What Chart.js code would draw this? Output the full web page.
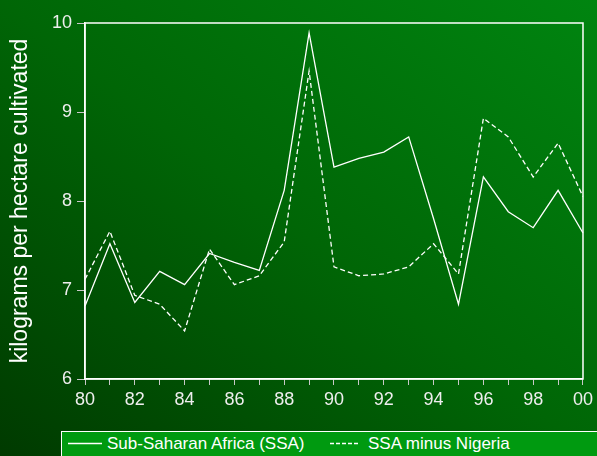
<!DOCTYPE html>
<html>
<head>
    <meta charset="UTF-8">
    <title>Fertilizer use, Sub-Saharan Africa</title>
    <script src="https://cdn.jsdelivr.net/npm/chart.js"></script>
    <style>
        html, body {
            margin: 0;
            padding: 0;
        }
        body {
            width: 597px;
            height: 456px;
            overflow: hidden;
            position: relative;
            background: linear-gradient(to top right, #003a00 0%, #006606 50%, #008510 100%);
            font-family: "Liberation Sans", Arial, sans-serif;
        }
        #myChart {
            position: absolute;
            left: 0;
            top: 0;
        }
        #legend {
            position: absolute;
            left: 61px;
            top: 431px;
            width: 560px;
            height: 40px;
            background: #009a10;
            border: 1px solid #ffffff;
            color: #ffffff;
            font-size: 17px;
        }
        #legend .txt {
            position: absolute;
            top: 3px;
            line-height: 17px;
            white-space: nowrap;
        }
        #legend svg {
            position: absolute;
            top: 6px;
        }
    </style>
</head>
<body>
    <canvas id="myChart" width="597" height="456"></canvas>
    <div id="legend">
        <svg style="left:6px" width="34" height="12"><line x1="0" y1="5.5" x2="34" y2="5.5" stroke="#fff" stroke-width="1.3"/></svg>
        <span class="txt" style="left:45px">Sub-Saharan Africa (SSA)</span>
        <svg style="left:268px" width="28" height="12"><line x1="0" y1="5.5" x2="28" y2="5.5" stroke="#fff" stroke-width="1.3" stroke-dasharray="4,2"/></svg>
        <span class="txt" style="left:306px">SSA minus Nigeria</span>
    </div>

    <script>
        // years 1980-2000, shown as two digits
        var years = ['80', '81', '82', '83', '84', '85', '86', '87', '88', '89', '90',
                     '91', '92', '93', '94', '95', '96', '97', '98', '99', '00'];

        // kilograms per hectare cultivated
        var ssa = [6.82, 7.52, 6.86, 7.21, 7.06, 7.41, 7.31, 7.22, 8.12, 9.89, 8.38,
                   8.48, 8.55, 8.72, 7.80, 6.84, 8.27, 7.88, 7.70, 8.12, 7.64];
        var ssaMinusNigeria = [7.12, 7.66, 6.94, 6.84, 6.54, 7.46, 7.06, 7.16, 7.54, 9.46, 7.26,
                               7.16, 7.18, 7.26, 7.52, 7.18, 8.93, 8.72, 8.27, 8.65, 8.05];

        var yMin = 6, yMax = 10;

        var fontFamily = '"Liberation Sans", Arial, sans-serif';

        // white frame around the plot area
        var frame = {
            id: 'frame',
            afterDraw: function (chart) {
                var a = chart.chartArea;
                var ctx = chart.ctx;
                ctx.save();
                ctx.strokeStyle = '#ffffff';
                ctx.lineWidth = 1.5;
                ctx.strokeRect(a.left, a.top, a.right - a.left, a.bottom - a.top);
                ctx.restore();
            }
        };

        var ctx = document.getElementById('myChart').getContext('2d');
        var myChart = new Chart(ctx, {
            type: 'line',
            data: {
                labels: years,
                datasets: [{
                    label: 'Sub-Saharan Africa (SSA)',
                    data: ssa,
                    borderColor: '#ffffff',
                    borderWidth: 1.3
                }, {
                    label: 'SSA minus Nigeria',
                    data: ssaMinusNigeria,
                    borderColor: '#ffffff',
                    borderWidth: 1.3,
                    borderDash: [5, 3]
                }]
            },
            options: {
                responsive: false,
                animation: false,
                layout: {
                    padding: { top: 23, right: 11, left: 0, bottom: 0 }
                },
                elements: {
                    point: { radius: 0 },
                    line: { tension: 0 }
                },
                plugins: {
                    legend: { display: false },
                    tooltip: { enabled: false }
                },
                scales: {
                    x: {
                        grid: {
                            drawOnChartArea: false,
                            tickLength: 6,
                            color: '#c8c8c8'
                        },
                        border: { color: '#ffffff', width: 1.5 },
                        ticks: {
                            color: '#eeeeee',
                            font: { size: 18, family: fontFamily },
                            padding: 4,
                            autoSkip: false,
                            maxRotation: 0,
                            callback: function (value, index) {
                                return index % 2 === 0 ? this.getLabelForValue(value) : '';
                            }
                        },
                        afterFit: function (scale) {
                            scale.height = 77;
                        }
                    },
                    y: {
                        min: yMin,
                        max: yMax,
                        grid: {
                            drawOnChartArea: false,
                            tickLength: 8,
                            color: '#c8c8c8'
                        },
                        border: { color: '#ffffff', width: 1.5 },
                        ticks: {
                            stepSize: 1,
                            color: '#eeeeee',
                            font: { size: 18, family: fontFamily },
                            padding: 5
                        },
                        title: {
                            display: true,
                            text: 'kilograms per hectare cultivated',
                            color: '#ffffff',
                            font: { size: 23, family: fontFamily },
                            padding: { top: 7, bottom: 0 }
                        },
                        afterFit: function (scale) {
                            scale.width = 85;
                        }
                    }
                }
            },
            plugins: [frame]
        });
    </script>
</body>
</html>
